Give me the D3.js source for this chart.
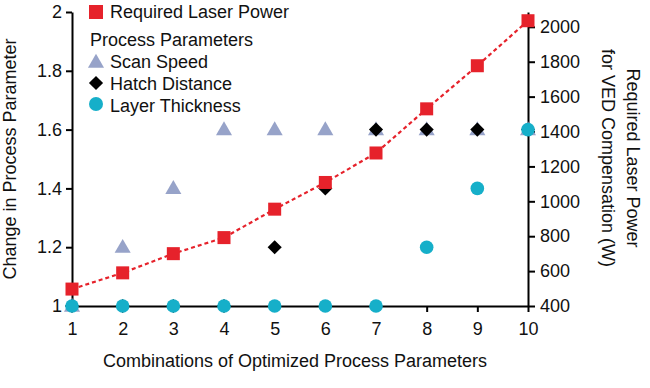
<!DOCTYPE html>
<html>
<head>
<meta charset="utf-8">
<script src="https://cdn.jsdelivr.net/npm/d3@7"></script>
<style>
  body { margin: 0; background: #fff; }
  svg text { font-family: "Liberation Sans", Arial, sans-serif; fill: #111; }
</style>
</head>
<body>
<div id="chart"></div>
<script>
const width = 650;
const height = 388;

// data
const combos = [1, 2, 3, 4, 5, 6, 7, 8, 9, 10];
const laserPower = [497, 590, 700, 792, 955, 1108, 1277, 1530, 1777, 2035];
const scanSpeed = [1, 1.2, 1.4, 1.6, 1.6, 1.6, 1.6, 1.6, 1.6, 1.6];
const hatchDistance = [1, 1, 1, 1, 1.2, 1.4, 1.6, 1.6, 1.6, 1.6];
const layerThickness = [1, 1, 1, 1, 1, 1, 1, 1.2, 1.4, 1.6];
const leftTicks = [1, 1.2, 1.4, 1.6, 1.8, 2];
const rightTicks = [400, 600, 800, 1000, 1200, 1400, 1600, 1800, 2000];

const margin = {left: 72, right: 122, top: 12, bottom: 82};

const red = "#e6222b";
const grey = "#97a3c9";
const cyan = "#16afc9";
const fs = "18px";

var svg = d3.select("#chart").append("svg")
  .attr("width", width)
  .attr("height", height);

const x = d3.scaleLinear().domain([1, 10]).range([margin.left, width - margin.right]);
const y = d3.scaleLinear().domain([1, 2]).range([height - margin.bottom, margin.top]);
const y2 = d3.scaleLinear().domain([400, 2085]).range([height - margin.bottom, margin.top]);

function styleAxis(g) {
  g.selectAll("path").attr("stroke", "#000").attr("stroke-width", 2);
  g.selectAll("line").attr("stroke", "#000").attr("stroke-width", 2);
  g.selectAll("text").style("font-size", fs).attr("fill", "#111");
}

// axes
var gx = svg.append("g")
  .attr("transform", "translate(0," + (height - margin.bottom) + ")")
  .call(d3.axisBottom(x).tickValues(combos).tickSize(6).tickSizeOuter(0).tickPadding(10).tickFormat(d3.format("d")));
styleAxis(gx);

var gy = svg.append("g")
  .attr("transform", "translate(" + margin.left + ",0)")
  .call(d3.axisLeft(y).tickValues(leftTicks).tickSize(6).tickSizeOuter(0).tickPadding(4).tickFormat(d => String(d)));
styleAxis(gy);

var gy2 = svg.append("g")
  .attr("transform", "translate(" + (width - margin.right) + ",0)")
  .call(d3.axisRight(y2).tickValues(rightTicks).tickSize(7).tickSizeOuter(0).tickPadding(5).tickFormat(d3.format("d")));
styleAxis(gy2);

// axis titles
svg.append("text")
  .attr("x", 295).attr("y", 367)
  .attr("text-anchor", "middle")
  .style("font-size", fs)
  .text("Combinations of Optimized Process Parameters");

svg.append("text")
  .attr("transform", "translate(16," + ((margin.top + height - margin.bottom) / 2) + ") rotate(-90)")
  .attr("text-anchor", "middle")
  .style("font-size", fs)
  .text("Change in Process Parameter");

var rt = svg.append("g")
  .attr("transform", "translate(627,158) rotate(90)");
rt.append("text").attr("x", 0).attr("y", 0).attr("text-anchor", "middle")
  .style("font-size", fs).text("Required Laser Power");
rt.append("text").attr("x", 0).attr("y", 25).attr("text-anchor", "middle")
  .style("font-size", fs).text("for VED Compensation (W)");

// markers
const tri = d3.symbol().type(d3.symbolTriangle).size(112);
const dia = d3.symbol().type(d3.symbolSquare).size(100);

svg.append("g").selectAll("path")
  .data(scanSpeed)
  .enter().append("path")
  .attr("d", tri)
  .attr("transform", (d, i) => "translate(" + x(combos[i]) + "," + (y(d) + 1) + ")")
  .attr("fill", grey);

svg.append("g").selectAll("path")
  .data(hatchDistance)
  .enter().append("path")
  .attr("d", dia)
  .attr("transform", (d, i) => "translate(" + x(combos[i]) + "," + y(d) + ") rotate(45)")
  .attr("fill", "#000");

svg.append("g").selectAll("circle")
  .data(layerThickness)
  .enter().append("circle")
  .attr("cx", (d, i) => x(combos[i]))
  .attr("cy", d => y(d))
  .attr("r", 6.8)
  .attr("fill", cyan);

const line = d3.line()
  .x((d, i) => x(combos[i]))
  .y(d => y2(d));

svg.append("path")
  .datum(laserPower)
  .attr("d", line)
  .attr("fill", "none")
  .attr("stroke", red)
  .attr("stroke-width", 2.2)
  .attr("stroke-dasharray", "4,3");

svg.append("g").selectAll("rect")
  .data(laserPower)
  .enter().append("rect")
  .attr("x", (d, i) => x(combos[i]) - 6.5)
  .attr("y", d => y2(d) - 6.5)
  .attr("width", 13)
  .attr("height", 13)
  .attr("fill", red);

// legend
var lg = svg.append("g");
lg.append("rect").attr("x", 89).attr("y", 5).attr("width", 14).attr("height", 14).attr("fill", red);
lg.append("text").attr("x", 110).attr("y", 18).style("font-size", fs).text("Required Laser Power");
lg.append("text").attr("x", 90).attr("y", 46).style("font-size", fs).text("Process Parameters");
lg.append("path").attr("d", tri).attr("transform", "translate(96,63)").attr("fill", grey);
lg.append("text").attr("x", 110).attr("y", 68).style("font-size", fs).text("Scan Speed");
lg.append("path").attr("d", dia).attr("transform", "translate(96,83) rotate(45)").attr("fill", "#000");
lg.append("text").attr("x", 110).attr("y", 90).style("font-size", fs).text("Hatch Distance");
lg.append("circle").attr("cx", 96).attr("cy", 104).attr("r", 7).attr("fill", cyan);
lg.append("text").attr("x", 110).attr("y", 112).style("font-size", fs).text("Layer Thickness");
</script>
</body>
</html>
